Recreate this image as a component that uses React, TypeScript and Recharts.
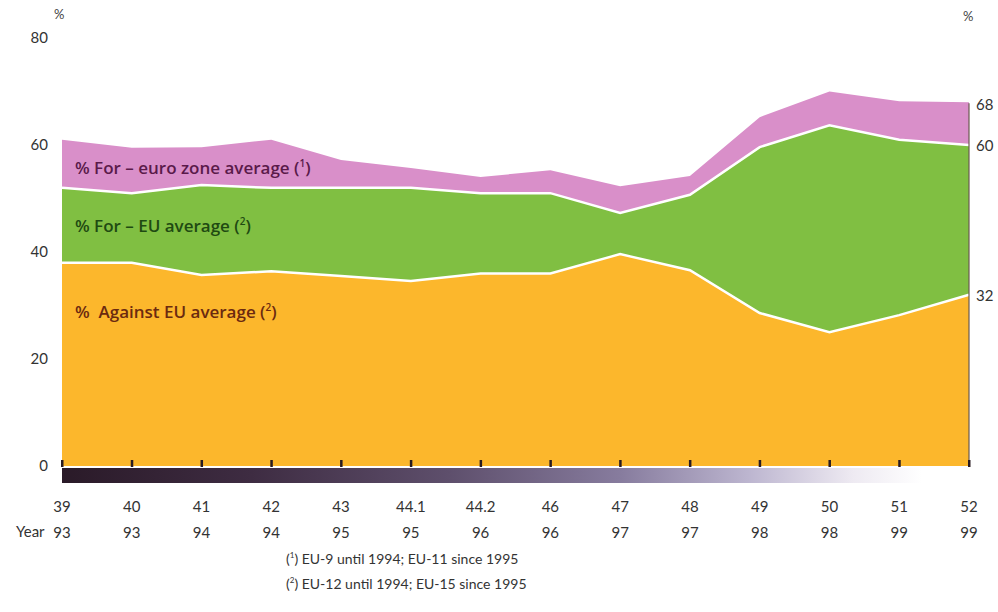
import React from 'react';
import { AreaChart, Area, XAxis, YAxis, ReferenceLine } from 'recharts';

// survey waves and the year each wave was held
const waves = ['39', '40', '41', '42', '43', '44.1', '44.2', '46', '47', '48', '49', '50', '51', '52'];
const years = ['93', '93', '94', '94', '95', '95', '96', '96', '97', '97', '98', '98', '99', '99'];

// % for - euro zone average (1)
const forEuroZone = [61, 59.5, 59.6, 61, 57.2, 55.7, 54, 55.3, 52.3, 54.2, 65.2, 70, 68.2, 68];
// % for - EU average (2)
const forEU = [52, 51, 52.5, 52, 52, 52, 51, 51, 47.3, 50.7, 59.6, 63.7, 61, 60];
// % against EU average (2)
const againstEU = [38, 38, 35.7, 36.4, 35.5, 34.6, 36, 36, 39.6, 36.6, 28.6, 25, 28.2, 32];

const yTicks = [0, 20, 40, 60, 80];

const data = waves.map((w, i) => ({
  wave: w,
  year: years[i],
  euro: forEuroZone[i],
  eu: forEU[i],
  against: againstEU[i],
}));

const font = 'Lato, "Open Sans", sans-serif';

const WaveTick = (props: any) => {
  const { x, y, index } = props;
  return (
    <g>
      <rect x={x - 1} y={y - 6} width={2.5} height={7} fill="#2a1c22" />
      <text x={x} y={y + 46} textAnchor="middle" fontSize={15} fill="#333" fontFamily={font}>
        {waves[index]}
      </text>
      <text x={x} y={y + 72} textAnchor="middle" fontSize={15} fill="#333" fontFamily={font}>
        {years[index]}
      </text>
    </g>
  );
};

const labelStyle = { fontFamily: '"Open Sans", sans-serif', fontWeight: 600, fontSize: 17 } as const;

export default function App() {
  return (
    <div style={{ position: 'absolute', left: 0, top: 0, width: 998, height: 612, background: '#fff' }}>
      <AreaChart
        width={998}
        height={612}
        data={data}
        margin={{ top: 38, right: 29, left: 0, bottom: 0 }}
      >
        <YAxis
          domain={[0, 80]}
          ticks={yTicks}
          width={62}
          axisLine={false}
          tickLine={false}
          tickSize={0}
          tickMargin={14}
          tick={{ fontSize: 15, fill: '#333', fontFamily: font }}
        />
        <Area
          type="linear"
          dataKey="euro"
          stroke="none"
          fill="#d98fc9"
          fillOpacity={1}
          isAnimationActive={false}
        />
        <Area
          type="linear"
          dataKey="eu"
          stroke="#fff"
          strokeWidth={2.5}
          fill="#80bf42"
          fillOpacity={1}
          isAnimationActive={false}
        />
        <Area
          type="linear"
          dataKey="against"
          stroke="#fff"
          strokeWidth={2.5}
          fill="#fcb72c"
          fillOpacity={1}
          isAnimationActive={false}
        />
        <ReferenceLine
          segment={[{ x: '52', y: 0 }, { x: '52', y: 67.8 }]}
          stroke="#6a5a50"
          strokeWidth={1.2}
        />
        <XAxis
          dataKey="wave"
          scale="point"
          padding={{ left: 0, right: 0 }}
          axisLine={false}
          tickLine={false}
          tickSize={0}
          tickMargin={0}
          height={146}
          interval={0}
          tick={<WaveTick />}
        />
      </AreaChart>

      {/* gradient band under the x axis */}
      <div
        style={{
          position: 'absolute',
          left: 62,
          top: 468,
          width: 860,
          height: 15,
          background:
            'linear-gradient(to right, #2a1a28 0%, #3e2c42 22%, #5e4f6c 45%, #877c9e 65%, #bdb6d0 80%, #eeeaf2 92%, #ffffff 100%)',
        }}
      />

      <div style={{ position: 'absolute', left: 54, top: 6, fontSize: 13, color: '#444', fontFamily: font }}>%</div>
      <div style={{ position: 'absolute', left: 963, top: 8, fontSize: 13, color: '#444', fontFamily: font }}>%</div>

      <div style={{ position: 'absolute', left: 976, top: 95, fontSize: 15, color: '#333', fontFamily: font }}>68</div>
      <div style={{ position: 'absolute', left: 976, top: 136, fontSize: 15, color: '#333', fontFamily: font }}>60</div>
      <div style={{ position: 'absolute', left: 976, top: 286, fontSize: 15, color: '#333', fontFamily: font }}>32</div>

      <div style={{ position: 'absolute', left: 75, top: 156, color: '#5a1a4a', ...labelStyle }}>
        % For – euro zone average (<sup style={{ fontSize: 10 }}>1</sup>)
      </div>
      <div style={{ position: 'absolute', left: 75, top: 214, color: '#1f4a12', ...labelStyle }}>
        % For – EU average (<sup style={{ fontSize: 10 }}>2</sup>)
      </div>
      <div style={{ position: 'absolute', left: 75, top: 300, color: '#6b2a10', ...labelStyle }}>
        %&nbsp; Against EU average (<sup style={{ fontSize: 10 }}>2</sup>)
      </div>

      <div style={{ position: 'absolute', left: 16, top: 522, fontSize: 15, color: '#333', fontFamily: font }}>Year</div>

      <div style={{ position: 'absolute', left: 286, top: 546, fontSize: 14, color: '#333', fontFamily: font, lineHeight: '25px' }}>
        <div>(<sup style={{ fontSize: 8, lineHeight: 0 }}>1</sup>) EU-9 until 1994; EU-11 since 1995</div>
        <div>(<sup style={{ fontSize: 8, lineHeight: 0 }}>2</sup>) EU-12 until 1994; EU-15 since 1995</div>
      </div>
    </div>
  );
}
